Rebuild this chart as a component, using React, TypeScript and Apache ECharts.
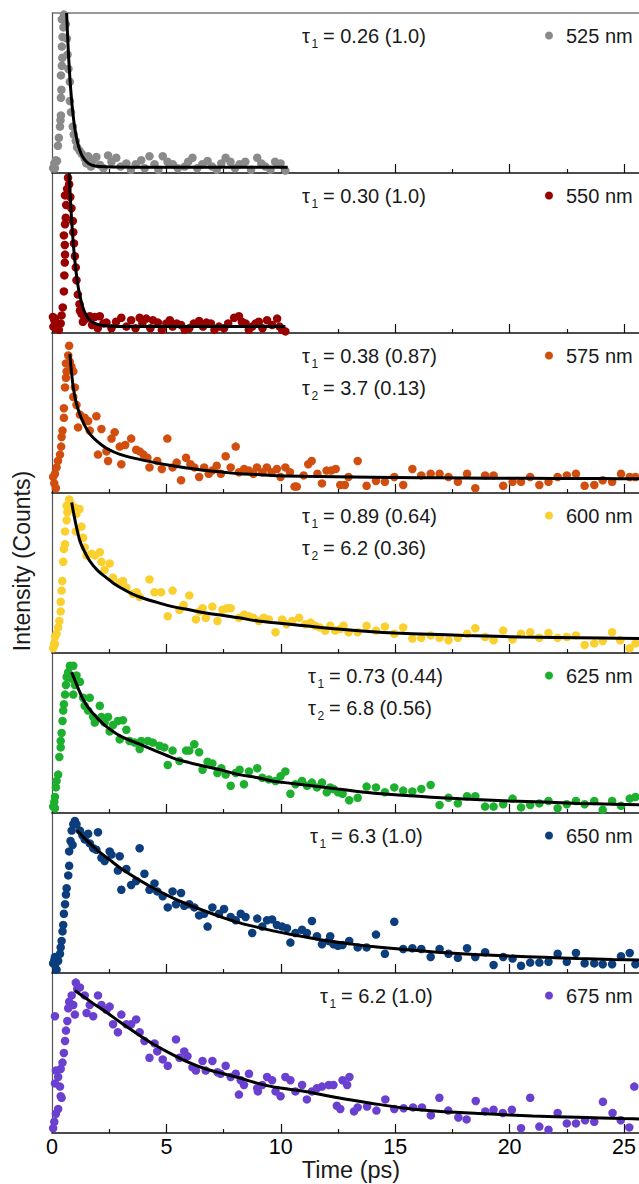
import React, { useEffect, useRef } from 'react';
import * as echarts from 'echarts';

const FONT = "'Liberation Sans', Arial, Helvetica, sans-serif";

const wavelengths = ['525 nm', '550 nm', '575 nm', '600 nm', '625 nm', '650 nm', '675 nm'];
const markerColors = ['#8a8a8a', '#990000', '#d24e0e', '#f9d02e', '#1daf2e', '#0c3d7d', '#6a40d0'];
const tau1Values = ['0.26 (1.0)', '0.30 (1.0)', '0.38 (0.87)', '0.89 (0.64)', '0.73 (0.44)', '6.3 (1.0)', '6.2 (1.0)'];
const tau2Values = ['', '', '3.7 (0.13)', '6.2 (0.36)', '6.8 (0.56)', '', ''];
const xTitle = 'Time (ps)';
const yTitle = 'Intensity (Counts)';

// measured points [time (ps), normalized intensity]
const data525 = [
  [0.05,0.03],[0.1,0.06],[0.13,0.03],[0.17,0.08],[0.22,0.075],[0.26,0.17],[0.3,0.22],[0.35,0.29],[0.37,0.33],[0.39,0.36],[0.39,0.47],[0.41,0.52],[0.39,0.61],[0.43,0.67],[0.45,0.72],[0.43,0.79],[0.46,0.85],[0.43,0.96],[0.5,0.91],[0.52,0.99],
  [0.6,0.93],[0.65,0.84],[0.68,0.74],[0.72,0.65],[0.78,0.57],[0.78,0.45],[0.83,0.38],[0.91,0.29],[0.95,0.24],[1.04,0.2],[1.1,0.16],[1.2,0.14],[1.3,0.12],[1.43,0.09],[1.5,0.06],
  [1.58,0.105],[1.7,0.04],[1.8,0.08],[1.94,0.1],[2.1,0.05],[2.25,0.03],[2.45,0.11],[2.6,0.07],[2.81,0.095],[3.0,0.04],[3.25,0.06],[3.45,0.02],[3.66,0.055],[3.9,0.08],[4.05,0.03],[4.26,0.105],[4.48,0.055],[4.65,0.02],[4.84,0.105],[5.05,0.07],[5.28,0.055],[5.5,0.03],[5.8,0.04],[5.95,0.07],[6.14,0.095],[6.35,0.03],[6.57,0.055],[6.8,0.075],[7.0,0.04],[7.2,0.02],[7.4,0.06],[7.59,0.095],[7.8,0.07],[8.0,0.03],[8.2,0.055],[8.45,0.07],[8.7,0.02],[8.97,0.095],[9.15,0.06],[9.33,0.04],[9.55,0.02],[9.75,0.07],[9.99,0.06],[10.2,0.015]
];
const data550 = [
  [0.04,0.1],[0.06,0.04],[0.1,0.08],[0.13,0.09],[0.15,0.03],[0.2,0.05],[0.3,0.02],[0.38,0.06],[0.42,0.11],[0.47,0.16],[0.52,0.26],[0.54,0.36],[0.56,0.44],[0.57,0.49],[0.56,0.55],[0.52,0.61],[0.57,0.68],[0.6,0.72],[0.57,0.86],[0.62,0.8],[0.66,0.9],[0.75,0.93],[0.7,0.97],
  [0.8,0.85],[0.85,0.78],[0.91,0.7],[0.93,0.63],[0.96,0.56],[1.0,0.48],[1.04,0.41],[1.07,0.33],[1.13,0.24],[1.2,0.18],[1.29,0.12],[1.22,0.14],[1.35,0.07],[1.43,0.1],[1.5,0.09],
  [1.65,0.105],[1.75,0.05],[1.87,0.1],[2.0,0.03],[2.09,0.105],[2.25,0.06],[2.38,0.065],[2.6,0.03],[2.8,0.07],[3.03,0.095],[3.25,0.04],[3.46,0.08],[3.65,0.03],[3.83,0.095],[3.95,0.06],[4.12,0.09],[4.3,0.03],[4.41,0.08],[4.63,0.065],[4.8,0.02],[5.0,0.06],[5.15,0.08],[5.27,0.04],[5.45,0.06],[5.64,0.05],[5.8,0.02],[6.0,0.03],[6.2,0.06],[6.43,0.075],[6.6,0.04],[6.75,0.065],[6.94,0.06],[7.1,0.02],[7.3,0.04],[7.52,0.03],[7.7,0.06],[7.96,0.095],[8.17,0.105],[8.3,0.07],[8.46,0.06],[8.6,0.02],[8.75,0.04],[8.9,0.06],[9.04,0.07],[9.2,0.03],[9.4,0.08],[9.62,0.05],[9.84,0.09],[9.95,0.04],[10.06,0.02],[10.2,0.01]
];
const data575 = [
  [0.05,0.1],[0.1,0.06],[0.13,0.12],[0.17,0.03],[0.2,0.16],[0.26,0.2],[0.35,0.24],[0.4,0.29],[0.42,0.35],[0.46,0.39],[0.52,0.47],[0.52,0.53],[0.57,0.66],[0.61,0.72],[0.64,0.76],[0.61,0.81],[0.71,0.86],[0.75,0.92],[0.78,0.82],[0.85,0.79],
  [0.93,0.76],[0.93,0.6],[1.0,0.66],[1.07,0.55],[1.14,0.41],[1.22,0.49],[1.43,0.47],[1.58,0.45],[1.65,0.39],[1.94,0.48],[2.01,0.24],[2.16,0.4],[2.38,0.26],[2.45,0.2],[2.6,0.34],[2.74,0.38],[2.96,0.29],[3.03,0.18],[3.2,0.3],[3.46,0.34],[3.68,0.27],[3.83,0.26],[4.0,0.24],[4.17,0.22],[4.26,0.16],[4.6,0.2],[4.8,0.15],[5.04,0.34],[5.27,0.16],[5.45,0.19],[5.64,0.08],[5.86,0.22],[6.05,0.18],[6.22,0.16],[6.43,0.1],[6.65,0.16],[6.85,0.12],[7.0,0.14],[7.2,0.17],[7.38,0.12],[7.59,0.23],[7.81,0.16],[8.03,0.29],[8.17,0.13],[8.4,0.15],[8.61,0.14],[8.8,0.12],[8.96,0.16],[9.2,0.13],[9.39,0.16],[9.6,0.13],[9.83,0.15],[9.99,0.1],[10.2,0.16],[10.4,0.13],[10.6,0.04],[10.7,0.04],[11.0,0.11],[11.2,0.18],[11.35,0.2],[11.6,0.12],[11.8,0.06],[12.0,0.14],[12.2,0.14],[12.4,0.15],[12.6,0.05],[12.8,0.05],[12.96,0.1],[13.36,0.2],[13.75,0.045],[14.16,0.075],[14.55,0.07],[14.96,0.1],[15.35,0.05],[15.75,0.15],[16.14,0.11],[16.55,0.12],[16.94,0.12],[17.33,0.1],[17.74,0.07],[18.14,0.12],[18.5,0.03],[18.93,0.11],[19.3,0.11],[19.72,0.045],[20.13,0.07],[20.5,0.07],[20.9,0.1],[21.3,0.05],[21.7,0.07],[22.1,0.1],[22.5,0.11],[22.9,0.12],[23.28,0.045],[23.7,0.05],[24.07,0.08],[24.48,0.07],[24.87,0.12],[25.25,0.1],[25.5,0.1]
];
const data600 = [
  [0.05,0.03],[0.1,0.06],[0.13,0.055],[0.13,0.1],[0.2,0.12],[0.27,0.16],[0.32,0.2],[0.38,0.26],[0.38,0.32],[0.42,0.39],[0.45,0.45],[0.49,0.57],[0.52,0.65],[0.57,0.68],[0.57,0.76],[0.64,0.83],[0.67,0.88],[0.64,0.92],[0.75,0.96],[0.8,0.94],[0.88,0.9],
  [1.0,0.91],[1.07,0.87],[1.2,0.9],[1.04,0.76],[1.29,0.79],[1.36,0.72],[1.43,0.66],[1.51,0.61],[1.72,0.62],[1.87,0.61],[2.09,0.63],[2.16,0.57],[2.3,0.52],[2.52,0.56],[2.67,0.47],[2.96,0.44],[3.1,0.45],[3.25,0.41],[3.54,0.37],[3.7,0.38],[3.83,0.35],[4.26,0.46],[4.48,0.38],[4.77,0.38],[5.06,0.23],[5.27,0.39],[5.57,0.27],[5.75,0.3],[6.0,0.36],[6.29,0.21],[6.45,0.26],[6.58,0.28],[6.72,0.22],[7.01,0.29],[7.23,0.2],[7.45,0.27],[7.65,0.28],[7.81,0.28],[8.17,0.22],[8.4,0.24],[8.6,0.23],[8.8,0.22],[9.04,0.2],[9.25,0.22],[9.48,0.21],[9.77,0.13],[10.06,0.21],[10.25,0.18],[10.5,0.2],[10.8,0.22],[11.07,0.18],[11.3,0.19],[11.5,0.17],[11.7,0.16],[11.94,0.14],[12.16,0.17],[12.38,0.14],[12.6,0.15],[12.74,0.17],[12.96,0.13],[13.36,0.13],[13.75,0.17],[14.16,0.14],[14.55,0.165],[14.96,0.12],[15.35,0.16],[15.75,0.09],[16.14,0.095],[16.55,0.11],[16.94,0.095],[17.33,0.08],[17.74,0.095],[18.14,0.12],[18.5,0.155],[18.93,0.1],[19.3,0.08],[19.72,0.14],[20.13,0.085],[20.5,0.12],[20.9,0.13],[21.3,0.095],[21.7,0.125],[22.1,0.095],[22.5,0.1],[22.9,0.11],[23.28,0.05],[23.7,0.06],[24.07,0.075],[24.48,0.13],[24.84,0.08],[25.25,0.03],[25.5,0.06]
];
const data625 = [
  [0.05,0.04],[0.1,0.07],[0.13,0.03],[0.13,0.1],[0.17,0.16],[0.2,0.2],[0.27,0.24],[0.32,0.35],[0.38,0.41],[0.38,0.45],[0.42,0.5],[0.46,0.575],[0.49,0.64],[0.52,0.68],[0.57,0.74],[0.61,0.8],[0.64,0.85],[0.71,0.88],[0.78,0.92],[0.93,0.92],[0.85,0.84],
  [0.93,0.74],[1.0,0.8],[1.07,0.86],[1.22,0.82],[1.36,0.72],[1.43,0.67],[1.65,0.72],[1.58,0.64],[1.8,0.6],[1.87,0.565],[2.09,0.67],[2.16,0.6],[2.3,0.565],[2.45,0.6],[2.52,0.51],[2.67,0.55],[2.88,0.575],[2.96,0.46],[3.1,0.58],[3.25,0.52],[3.39,0.45],[3.61,0.44],[3.83,0.4],[3.9,0.45],[4.19,0.45],[4.41,0.44],[4.7,0.42],[4.91,0.41],[5.06,0.3],[5.27,0.39],[5.57,0.325],[5.86,0.39],[6.0,0.39],[6.22,0.43],[6.43,0.38],[6.58,0.27],[6.8,0.32],[7.01,0.31],[7.23,0.25],[7.4,0.28],[7.59,0.24],[7.81,0.17],[8.03,0.25],[8.2,0.27],[8.39,0.18],[8.61,0.26],[8.97,0.28],[9.19,0.22],[9.48,0.21],[9.77,0.2],[9.99,0.23],[10.2,0.26],[10.42,0.12],[10.64,0.18],[10.93,0.2],[11.15,0.17],[11.36,0.19],[11.58,0.16],[11.8,0.19],[12.01,0.13],[12.16,0.16],[12.3,0.15],[12.5,0.13],[12.7,0.12],[12.99,0.08],[13.36,0.095],[13.75,0.165],[14.16,0.16],[14.55,0.13],[14.96,0.16],[15.35,0.14],[15.75,0.135],[16.14,0.15],[16.55,0.175],[16.94,0.05],[17.33,0.095],[17.74,0.06],[18.14,0.105],[18.5,0.105],[18.93,0.04],[19.3,0.04],[19.72,0.055],[20.13,0.09],[20.5,0.035],[20.9,0.05],[21.3,0.06],[21.7,0.075],[22.1,0.03],[22.5,0.055],[22.9,0.075],[23.28,0.055],[23.7,0.075],[24.07,0.02],[24.48,0.075],[24.87,0.045],[25.25,0.09],[25.5,0.1]
];
const data650 = [
  [0.05,0.06],[0.1,0.08],[0.13,0.1],[0.13,0.05],[0.2,0.02],[0.27,0.075],[0.35,0.12],[0.38,0.16],[0.42,0.2],[0.46,0.26],[0.49,0.3],[0.52,0.37],[0.57,0.43],[0.61,0.49],[0.64,0.53],[0.71,0.61],[0.75,0.67],[0.75,0.76],[0.81,0.825],[0.86,0.89],[0.93,0.93],[1.0,0.95],[1.07,0.93],[0.9,0.8],
  [1.22,0.89],[1.33,0.86],[1.43,0.835],[1.58,0.87],[1.65,0.81],[1.8,0.78],[1.94,0.77],[2.01,0.88],[2.16,0.72],[2.3,0.7],[2.52,0.76],[2.6,0.74],[2.88,0.64],[2.96,0.73],[3.03,0.52],[3.25,0.65],[3.46,0.55],[3.68,0.575],[3.83,0.78],[4.04,0.62],[4.26,0.52],[4.48,0.56],[4.6,0.51],[4.84,0.48],[5.06,0.41],[5.27,0.51],[5.42,0.43],[5.64,0.5],[5.78,0.42],[6.0,0.43],[6.22,0.41],[6.43,0.36],[6.65,0.37],[6.8,0.29],[7.01,0.41],[7.3,0.37],[7.52,0.4],[7.81,0.35],[8.03,0.33],[8.25,0.37],[8.46,0.35],[8.75,0.25],[8.97,0.34],[9.19,0.29],[9.4,0.33],[9.62,0.335],[9.83,0.3],[10.06,0.29],[10.27,0.28],[10.42,0.19],[10.64,0.25],[10.93,0.27],[11.14,0.25],[11.36,0.325],[11.58,0.23],[11.8,0.18],[12.1,0.2],[12.16,0.23],[12.3,0.18],[12.5,0.17],[12.7,0.175],[12.99,0.2],[13.36,0.16],[13.75,0.16],[14.16,0.24],[14.55,0.12],[14.96,0.32],[15.35,0.15],[15.75,0.155],[16.14,0.15],[16.55,0.1],[16.94,0.15],[17.33,0.12],[17.74,0.095],[18.14,0.155],[18.5,0.1],[18.93,0.13],[19.3,0.05],[19.72,0.1],[20.13,0.09],[20.5,0.045],[20.9,0.065],[21.3,0.065],[21.7,0.07],[22.1,0.12],[22.5,0.07],[22.9,0.125],[23.28,0.06],[23.7,0.06],[24.07,0.055],[24.48,0.055],[24.87,0.105],[25.25,0.125],[25.5,0.055]
];
const data675 = [
  [0.05,0.03],[0.1,0.07],[0.13,0.73],[0.13,0.31],[0.17,0.12],[0.17,0.39],[0.27,0.15],[0.27,0.35],[0.35,0.29],[0.38,0.23],[0.42,0.22],[0.38,0.4],[0.46,0.44],[0.52,0.5],[0.57,0.575],[0.61,0.64],[0.67,0.7],[0.71,0.78],[0.75,0.82],[0.86,0.86],[0.93,0.8],[1.0,0.74],[1.04,0.94],[1.1,0.9],[1.22,0.91],[1.43,0.86],[1.51,0.75],[1.65,0.8],[1.8,0.73],[2.01,0.86],[2.16,0.8],[2.38,0.77],[2.52,0.79],[2.67,0.68],[2.88,0.63],[3.03,0.74],[3.25,0.68],[3.46,0.68],[3.68,0.71],[3.83,0.63],[4.04,0.575],[4.26,0.47],[4.48,0.56],[4.6,0.51],[4.84,0.46],[5.06,0.42],[5.42,0.585],[5.57,0.47],[5.78,0.51],[5.92,0.48],[6.14,0.41],[6.29,0.39],[6.58,0.45],[6.72,0.39],[7.01,0.45],[7.23,0.38],[7.37,0.37],[7.59,0.42],[7.81,0.35],[8.03,0.37],[8.17,0.24],[8.25,0.33],[8.39,0.3],[8.61,0.37],[8.97,0.28],[9.0,0.26],[9.19,0.3],[9.4,0.35],[9.62,0.33],[9.77,0.26],[9.99,0.23],[10.2,0.35],[10.42,0.33],[10.64,0.26],[10.93,0.3],[11.14,0.21],[11.36,0.26],[11.58,0.28],[11.8,0.29],[12.1,0.3],[12.3,0.3],[12.45,0.17],[12.6,0.15],[12.7,0.33],[12.9,0.3],[13.0,0.35],[13.2,0.135],[13.36,0.16],[13.77,0.165],[14.18,0.14],[14.57,0.21],[14.96,0.15],[15.37,0.155],[15.78,0.16],[16.17,0.16],[16.56,0.11],[16.93,0.22],[17.32,0.14],[17.76,0.097],[18.12,0.085],[18.52,0.2],[18.94,0.135],[19.3,0.145],[19.7,0.125],[20.1,0.145],[20.5,0.03],[20.9,0.22],[21.3,0.04],[21.7,0.02],[22.1,0.125],[22.5,0.06],[22.9,0.06],[23.3,0.08],[23.7,0.07],[24.08,0.195],[24.5,0.125],[24.86,0.08],[25.23,0.035],[25.45,0.29]
];

// fitted decay curves [time (ps), normalized intensity]
const fit525 = [[0.64,1.0],[0.7,0.8],[0.76,0.643],[0.82,0.518],[0.88,0.419],[0.94,0.34],[1.0,0.277],[1.1,0.2],[1.2,0.148],[1.3,0.112],[1.45,0.079],[1.6,0.06],[1.8,0.047],[2.1,0.04],[2.6,0.037],[4.0,0.036],[10.3,0.036]];
const fit550 = [[0.75,1.0],[0.8,0.85],[0.86,0.7],[0.93,0.56],[1.0,0.45],[1.1,0.33],[1.2,0.245],[1.35,0.16],[1.5,0.11],[1.7,0.075],[1.9,0.058],[2.2,0.047],[2.6,0.042],[4.0,0.04],[10.2,0.04]];
const fit575 = [[0.78,0.87],[0.85,0.76],[0.93,0.66],[1.05,0.57],[1.22,0.49],[1.4,0.43],[1.65,0.37],[2.0,0.32],[2.38,0.28],[3.0,0.24],[3.83,0.21],[4.5,0.19],[5.27,0.17],[6.0,0.155],[6.73,0.14],[7.5,0.13],[8.17,0.12],[9.0,0.115],[9.6,0.11],[11.0,0.105],[12.4,0.102],[14.0,0.099],[16.0,0.096],[18.0,0.094],[20.0,0.092],[22.0,0.091],[24.0,0.09],[26.0,0.089]];
const fit600 = [[0.86,0.94],[0.95,0.87],[1.05,0.8],[1.22,0.7],[1.4,0.64],[1.65,0.575],[2.0,0.515],[2.38,0.47],[2.7,0.435],[3.1,0.4],[3.5,0.37],[3.83,0.35],[4.5,0.32],[5.27,0.29],[6.0,0.27],[6.73,0.25],[7.5,0.235],[8.17,0.22],[9.0,0.2],[9.62,0.19],[10.5,0.178],[11.07,0.17],[12.5,0.15],[14.0,0.133],[15.0,0.125],[16.5,0.117],[18.0,0.11],[19.0,0.106],[20.5,0.1],[22.0,0.097],[24.0,0.093],[26.0,0.09]];
const fit625 = [[0.86,0.88],[1.0,0.83],[1.2,0.76],[1.36,0.71],[1.6,0.655],[2.0,0.59],[2.38,0.54],[3.0,0.48],[3.83,0.43],[4.5,0.39],[5.27,0.345],[6.0,0.315],[6.73,0.29],[7.5,0.265],[8.17,0.24],[9.0,0.22],[9.62,0.2],[10.5,0.185],[11.07,0.175],[12.5,0.15],[14.0,0.125],[15.5,0.11],[17.0,0.095],[18.5,0.085],[20.0,0.075],[21.5,0.068],[23.0,0.06],[24.5,0.055],[26.0,0.05]];
const fit650 = [[1.1,0.89],[1.5,0.83],[2.0,0.765],[2.5,0.71],[3.0,0.655],[3.83,0.58],[4.5,0.525],[5.27,0.47],[6.0,0.425],[6.73,0.385],[7.5,0.345],[8.17,0.315],[9.0,0.285],[9.62,0.265],[10.3,0.245],[11.07,0.225],[12.1,0.2],[13.0,0.182],[14.0,0.165],[15.5,0.145],[17.0,0.128],[18.5,0.116],[20.0,0.106],[21.5,0.098],[23.0,0.09],[24.5,0.084],[26.0,0.08]];
const fit675 = [[1.0,0.89],[1.5,0.84],[2.0,0.79],[2.38,0.755],[3.0,0.69],[3.83,0.61],[4.5,0.55],[5.27,0.49],[6.0,0.44],[6.73,0.4],[7.5,0.37],[8.17,0.345],[9.0,0.31],[9.62,0.29],[10.3,0.275],[11.07,0.26],[12.5,0.22],[14.0,0.185],[15.45,0.155],[17.0,0.135],[19.0,0.12],[21.0,0.107],[23.0,0.098],[25.0,0.09],[26.0,0.087]];

const panelData = [data525, data550, data575, data600, data625, data650, data675];
const panelFits = [fit525, fit550, fit575, fit600, fit625, fit650, fit675];

export default function App() {
  const ref = useRef<HTMLDivElement>(null);

  useEffect(() => {
    document.body.style.margin = '0';
    const chart = echarts.init(ref.current as HTMLDivElement, undefined, { renderer: 'svg' });

    const top0 = 13;
    const panelH = 160;
    const left = 52;
    const unit = 22.88;
    const xMax = 30;
    const textX = [302, 302, 302, 302, 308, 310, 320];
    const grids: any[] = [];
    const xAxes: any[] = [];
    const yAxes: any[] = [];
    const series: any[] = [];
    const graphics: any[] = [];
    const n = panelData.length;

    const txt = (x: number, y: number, text: string, size: number, align = 'left', extra: any = {}) => ({
      type: 'text',
      x,
      y,
      silent: true,
      ...extra,
      style: {
        text,
        fontSize: size,
        fontFamily: FONT,
        fill: '#1a1a1a',
        align,
        verticalAlign: 'middle',
        textAlign: align,
        textVerticalAlign: 'middle',
      },
    });

    for (let i = 0; i < n; i++) {
      const top = top0 + panelH * i;
      grids.push({ left, top, width: unit * xMax, height: panelH, containLabel: false });
      xAxes.push({
        gridIndex: i,
        type: 'value',
        min: 0,
        max: xMax,
        interval: 5,
        axisLine: { show: true, onZero: false, lineStyle: { color: '#111', width: 1.6 } },
        axisTick: { show: true, inside: true, length: 9, lineStyle: { color: '#111', width: 1.2 } },
        minorTick: { show: true, splitNumber: 2, length: 4, lineStyle: { color: '#111', width: 1.2 } },
        splitLine: { show: false },
        minorSplitLine: { show: false },
        axisLabel: {
          show: i === n - 1,
          fontSize: 21.5,
          fontFamily: FONT,
          color: '#000',
          margin: 3,
          formatter: (v: number) => (v % 5 === 0 && v <= 25 ? String(v) : ''),
        },
      });
      yAxes.push({
        gridIndex: i,
        type: 'value',
        min: 0,
        max: 1,
        axisLine: { show: true, lineStyle: { color: '#555', width: 1.2 } },
        axisTick: { show: false },
        axisLabel: { show: false },
        splitLine: { show: false },
      });
      series.push({
        type: 'scatter',
        xAxisIndex: i,
        yAxisIndex: i,
        data: panelData[i],
        symbol: 'circle',
        symbolSize: 8.5,
        itemStyle: { color: markerColors[i], opacity: 1 },
        z: 2,
        silent: true,
      });
      series.push({
        type: 'line',
        xAxisIndex: i,
        yAxisIndex: i,
        data: panelFits[i],
        symbol: 'none',
        showSymbol: false,
        smooth: 0.35,
        lineStyle: { color: '#000', width: 3 },
        z: 3,
        silent: true,
      });

      const cy1 = top + 22.5;
      const tx = textX[i];
      graphics.push(txt(tx, cy1, 'τ', 20));
      graphics.push(txt(tx + 9.5, cy1 + 8, '1', 12));
      graphics.push(txt(tx + 21, cy1, '= ' + tau1Values[i], 20));
      if (tau2Values[i]) {
        const cy2 = top + 55;
        graphics.push(txt(tx, cy2, 'τ', 20));
        graphics.push(txt(tx + 9.5, cy2 + 8, '2', 12));
        graphics.push(txt(tx + 21, cy2, '= ' + tau2Values[i], 20));
      }
      graphics.push({
        type: 'circle',
        silent: true,
        shape: { cx: 549, cy: cy1, r: 4 },
        style: { fill: markerColors[i] },
      });
      graphics.push(txt(566, cy1, wavelengths[i], 20));
    }

    graphics.push({
      type: 'line',
      silent: true,
      shape: { x1: left, y1: top0, x2: 700, y2: top0 },
      style: { stroke: '#333', lineWidth: 1.2 },
    });
    graphics.push(txt(351, 1170, xTitle, 23.5, 'center'));
    graphics.push(txt(22, 561, yTitle, 23, 'center', { rotation: Math.PI / 2 }));

    chart.setOption({
      animation: false,
      backgroundColor: '#fff',
      grid: grids,
      xAxis: xAxes,
      yAxis: yAxes,
      series,
      graphic: { elements: graphics },
    });

    return () => chart.dispose();
  }, []);

  return (
    <div style={{ position: 'absolute', left: 0, top: 0, width: 639, height: 1184, overflow: 'hidden', background: '#fff' }}>
      <div ref={ref} style={{ position: 'absolute', left: 0, top: 0, width: 760, height: 1184 }} />
    </div>
  );
}
